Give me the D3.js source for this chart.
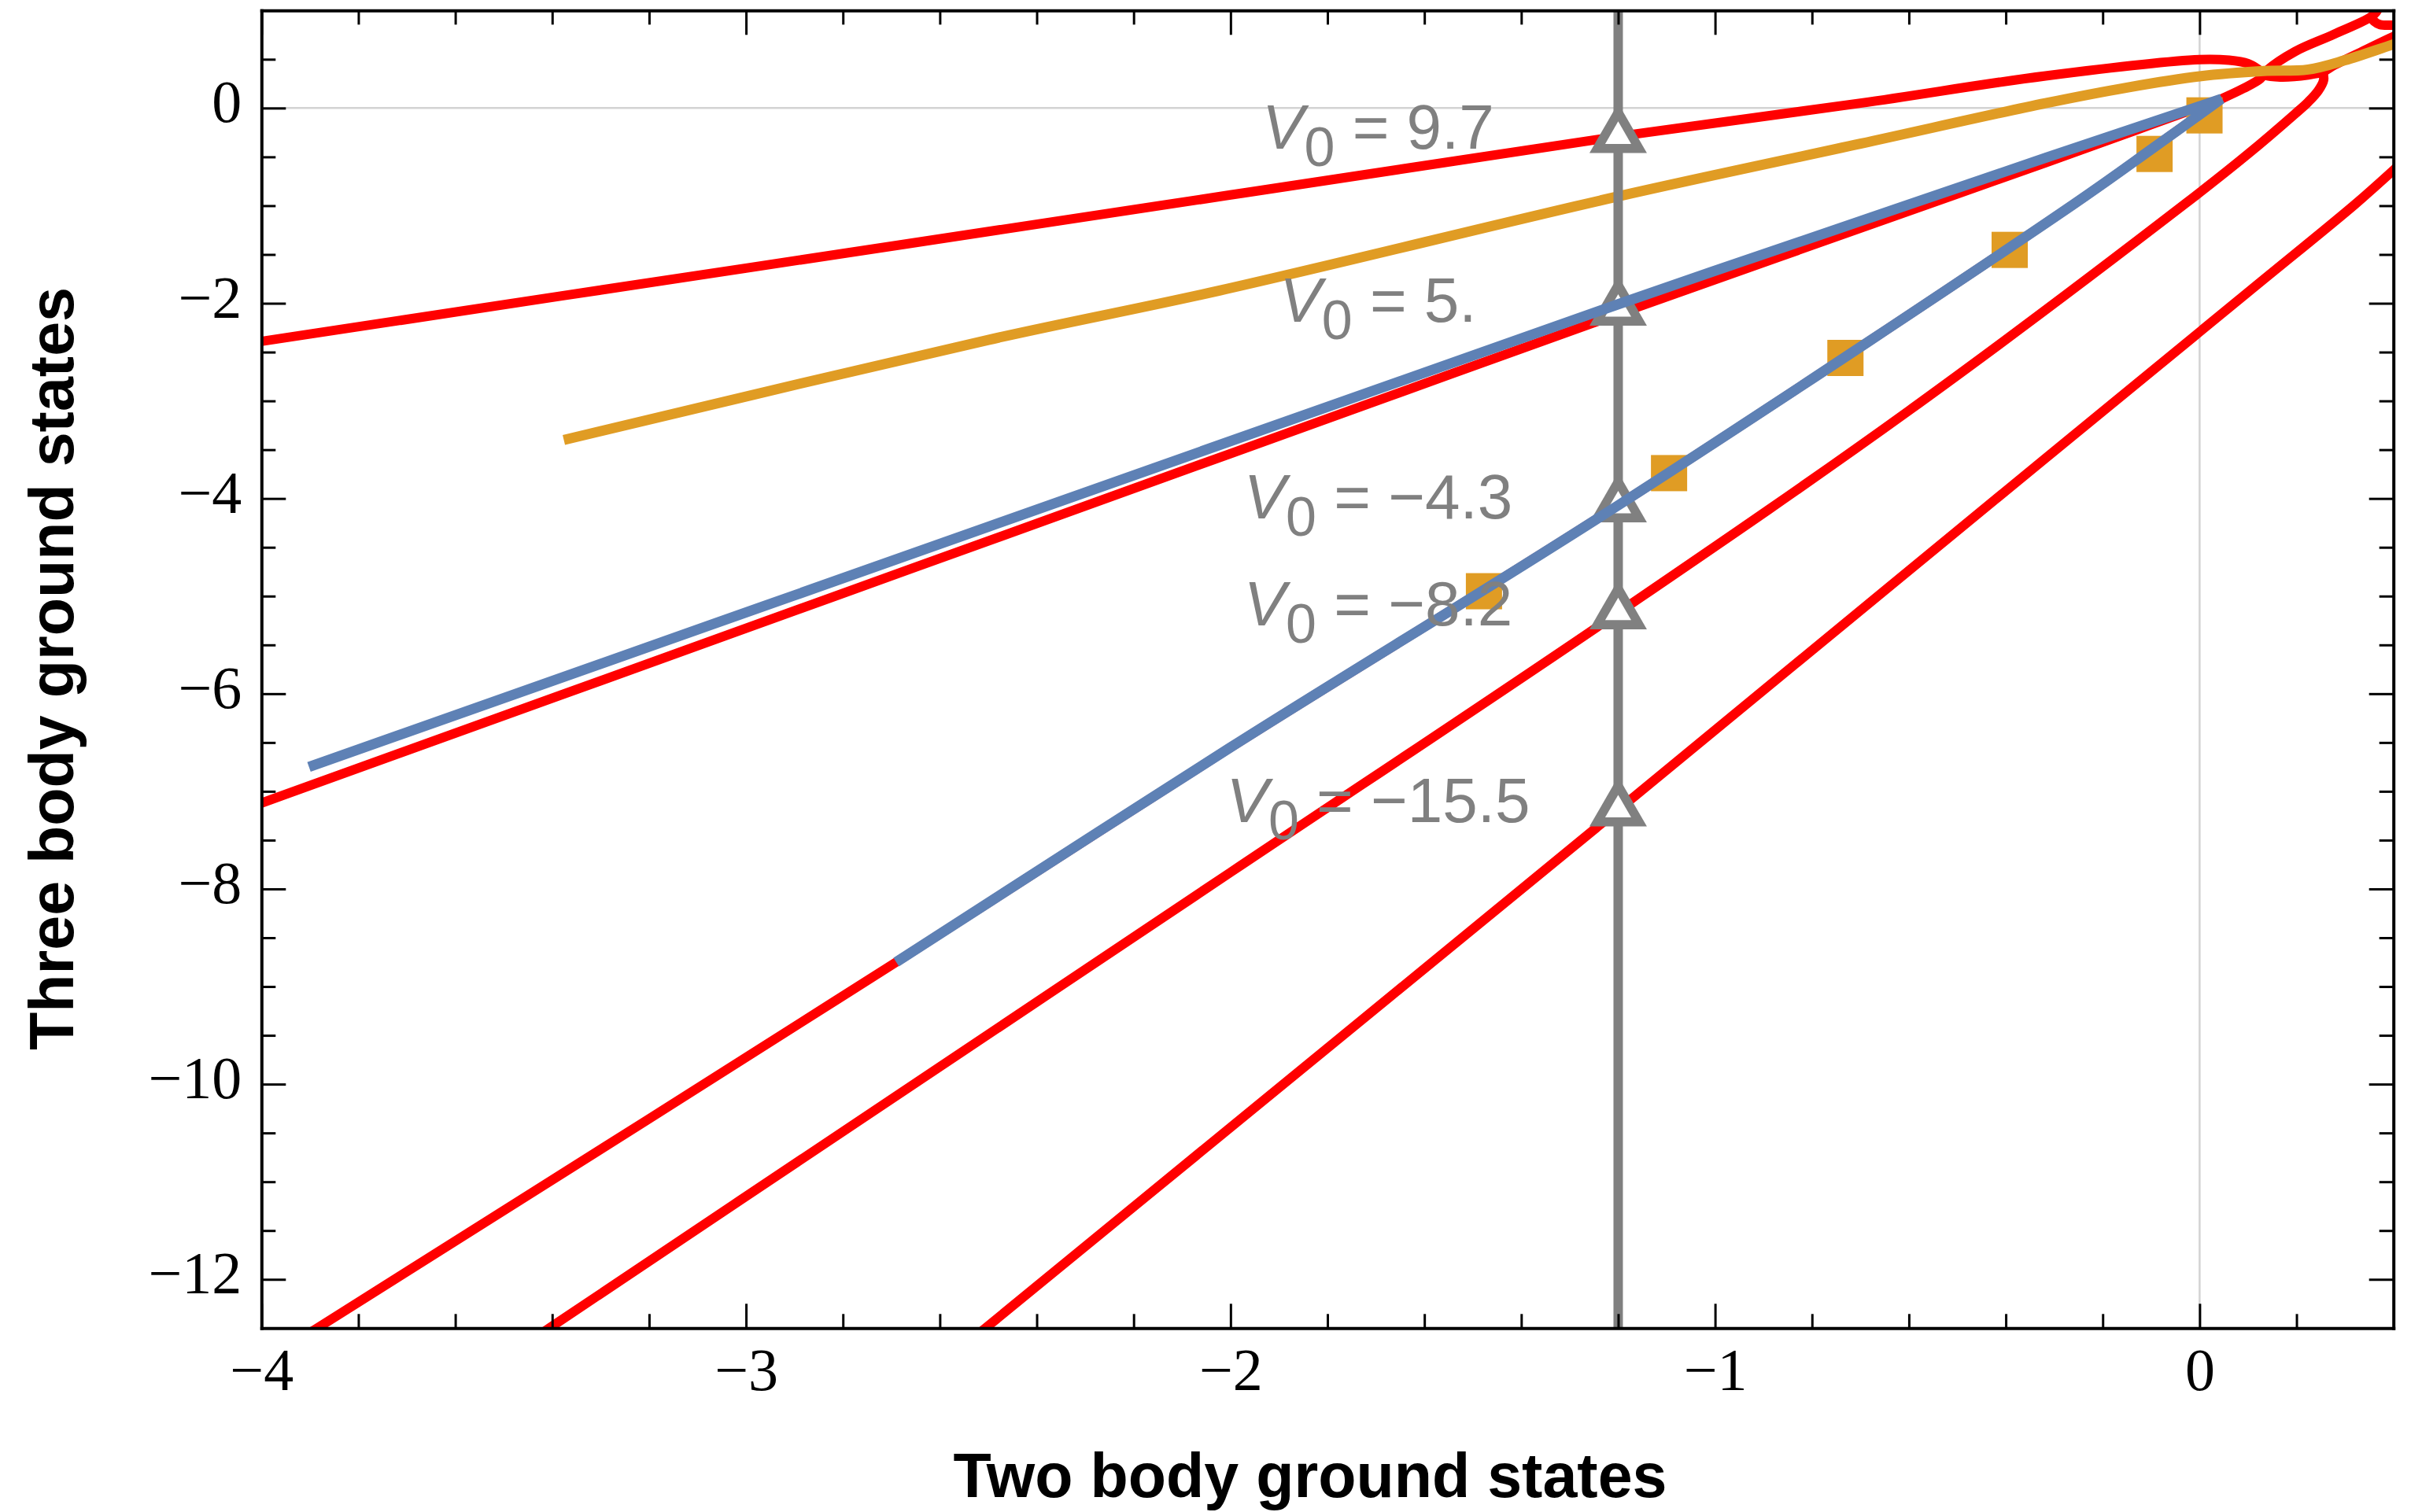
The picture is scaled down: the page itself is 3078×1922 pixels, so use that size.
<!DOCTYPE html>
<html><head><meta charset="utf-8">
<script src="https://cdn.jsdelivr.net/npm/d3@7"></script>
<style>body{margin:0;background:#fff;} svg{display:block;}</style>
</head><body>
<svg id="chart" width="3078" height="1922"></svg>
<script>
// ---------- data ----------
const xTicks = [-4, -3, -2, -1, 0];
const yTicks = [-12, -10, -8, -6, -4, -2, 0];

// red curves (branches of the three-body condition)
const redA = [[-4.05,-2.43],[-4,-2.39],[-3,-1.64],[-2,-0.89],[-1.2,-0.29],[-0.7,0.05],[-0.318,0.33],[0,0.497],[0.061,0.49],[0.1,0.455],[0.12,0.40],[0.136,0.335],[0.17,0.318],[0.224,0.34],[0.254,0.37],[0.278,0.44],[0.332,0.57],[0.4,0.733],[0.45,0.83]];
const redR = [[0.045,0.094],[0.09,0.2],[0.125,0.3],[0.14,0.39],[0.197,0.58],[0.278,0.758],[0.359,0.954],[0.372,1.05]];
const redFork = [[0.352,0.94],[0.36,0.89],[0.372,0.856],[0.4,0.85],[0.43,0.85]];
const redC = [[-3.46,-12.68],[-3.406,-12.5],[-3,-11.15],[-2,-7.83],[-1.2,-5.17],[-0.6,-3.1],[-0.031,-0.985],[0.1,-0.47],[0.197,-0.059],[0.224,0.062],[0.245,0.18],[0.256,0.29],[0.254,0.37]];
const redD = [[-2.55,-12.68],[-2.506,-12.5],[-1.2,-7.19],[-0.5,-4.33],[0.1,-1.886],[0.321,-0.985],[0.4,-0.637],[0.43,-0.5]];
const redBLower = [[-3.95,-12.7],[-3.885,-12.5],[-2.69,-8.75],[-2,-6.55],[-1.2,-4.07],[-0.26,-0.985],[-0.092,-0.395],[0.045,0.094]];
const redBUpper = [[-4.05,-7.21],[-4,-7.12],[-3,-5.33],[-2,-3.54],[-1.2,-2.11],[-0.318,-0.56],[-0.1,-0.17],[0.045,0.094]];

// blue hairpin curve: lower branch (to the tip) and upper branch (from the tip)
const blueLower = [[-2.69,-8.75],[-2,-6.55],[-1.2,-4.07],[-0.26,-0.985],[-0.092,-0.395],[0.045,0.094]];
const blueUpper = [[0.045,0.094],[-0.101,-0.15],[-0.318,-0.51],[-1.2,-2.01],[-2.5,-4.29],[-3.902,-6.75]];

// orange curve
const orange = [[-3.376,-3.40],[-2.5,-2.375],[-2.023,-1.87],[-1.2,-0.905],[-0.7,-0.365],[-0.318,0.05],[-0.15,0.21],[0,0.325],[0.132,0.379],[0.224,0.395],[0.30,0.49],[0.4,0.653],[0.45,0.73]];

// orange square points
const sqX = [-1.477, -1.095, -0.731, -0.392, -0.093, 0.010];
const sqY = [-4.95, -3.74, -2.56, -1.453, -0.47, -0.075];

// V0 markers on the vertical line
const markX = -1.2;
const markY = [-0.29, -2.06, -4.075, -5.17, -7.19];
const markLabels = ["9.7", "5.", "\u22124.3", "\u22128.2", "\u221215.5"];

// ---------- drawing ----------
const W = 3078, H = 1922;
const L = 332.3, R = 3041.7, T = 13.3, B = 1688.3;
const x = d3.scaleLinear([-4, 0.4], [L, R]);
const y = d3.scaleLinear([-12.5, 1], [B, T]);

const svg = d3.select('#chart');
svg.append('rect').attr('width', W).attr('height', H).attr('fill', '#fff');
svg.append('defs').append('clipPath').attr('id', 'clip')
  .append('rect').attr('x', L).attr('y', T).attr('width', R - L).attr('height', B - T);

const plot = svg.append('g').attr('clip-path', 'url(#clip)');

// grid lines at 0
plot.append('line').attr('x1', x(0)).attr('x2', x(0)).attr('y1', T).attr('y2', B)
  .attr('stroke', '#d3d3d3').attr('stroke-width', 2.5);
plot.append('line').attr('x1', L).attr('x2', R).attr('y1', y(0)).attr('y2', y(0))
  .attr('stroke', '#d3d3d3').attr('stroke-width', 2.5);

const smooth = d3.line().x(d => x(d[0])).y(d => y(d[1])).curve(d3.curveCatmullRom.alpha(0.5));

[redA, redR, redFork, redC, redD, redBLower, redBUpper].forEach(c => {
  plot.append('path').attr('d', smooth(c)).attr('fill', 'none')
    .attr('stroke', '#ff0000').attr('stroke-width', 12)
    .attr('stroke-linejoin', 'round').attr('stroke-linecap', 'butt');
});

plot.append('path').attr('d', smooth(orange)).attr('fill', 'none')
  .attr('stroke', '#e09c24').attr('stroke-width', 13).attr('stroke-linecap', 'butt');

// squares
plot.selectAll('rect.sq').data(sqX.map((v, i) => [v, sqY[i]])).enter().append('rect')
  .attr('class', 'sq')
  .attr('x', d => x(d[0]) - 23).attr('y', d => y(d[1]) - 23)
  .attr('width', 46).attr('height', 46).attr('fill', '#e09c24');

// labels
const lab = svg.append('g').attr('font-family', 'Liberation Sans, Arial, sans-serif')
  .attr('fill', '#808080').attr('font-size', 80);
markY.forEach((v, i) => {
  const t = lab.append('text').attr('x', x(markX) - 305).attr('y', y(v) + 16)
    .attr('text-anchor', 'middle');
  t.append('tspan').attr('font-style', 'italic').text('V');
  t.append('tspan').attr('font-size', 70).attr('dy', 22).text('0');
  t.append('tspan').attr('dy', -22).text('\u00a0=\u00a0' + markLabels[i]);
});

// vertical line
plot.append('line').attr('x1', x(markX)).attr('x2', x(markX)).attr('y1', T).attr('y2', B)
  .attr('stroke', '#808080').attr('stroke-width', 12);

// triangles
const triOuter = d3.symbol().type(d3.symbolTriangle).size(2307);
const triInner = d3.symbol().type(d3.symbolTriangle).size(472);
markY.forEach(v => {
  const g = plot.append('g').attr('transform', `translate(${x(markX)},${y(v)})`);
  g.append('path').attr('d', triOuter()).attr('fill', '#808080');
  g.append('path').attr('d', triInner()).attr('fill', '#ffffff');
});

// blue (single path, sharp tip)
const blueD = smooth(blueLower) + smooth(blueUpper).replace(/^M/, 'L');
plot.append('path').attr('d', blueD).attr('fill', 'none')
  .attr('stroke', '#5e81b5').attr('stroke-width', 13)
  .attr('stroke-linejoin', 'miter').attr('stroke-miterlimit', 4).attr('stroke-linecap', 'butt');

// ---------- axes / frame ----------
const xMinor = d3.range(-40, 4, 2).filter(v => v % 10 !== 0).map(v => v / 10);
const yMinor = d3.range(-24, 2, 1).filter(v => v % 4 !== 0).map(v => v / 2);
const fmt = d3.format('d');

function styleAxis(g) {
  g.attr('font-family', 'Liberation Serif, Times New Roman, serif').attr('font-size', 76);
  g.selectAll('.domain').attr('stroke', '#000').attr('stroke-width', 4).attr('stroke-linecap', 'square');
  g.selectAll('.tick line').attr('stroke', '#000').attr('stroke-width', 3);
  g.selectAll('.tick text').attr('fill', '#000');
}
function minor(g) { g.select('.domain').remove(); g.selectAll('.tick line').attr('stroke', '#000').attr('stroke-width', 3); }

svg.append('g').attr('transform', `translate(0,${B})`)
  .call(d3.axisBottom(x).tickValues(xMinor).tickSize(-18).tickFormat('')).call(minor);
svg.append('g').attr('transform', `translate(0,${T})`)
  .call(d3.axisTop(x).tickValues(xMinor).tickSize(-18).tickFormat('')).call(minor);
svg.append('g').attr('transform', `translate(${L},0)`)
  .call(d3.axisLeft(y).tickValues(yMinor).tickSize(-18).tickFormat('')).call(minor);
svg.append('g').attr('transform', `translate(${R},0)`)
  .call(d3.axisRight(y).tickValues(yMinor).tickSize(-18).tickFormat('')).call(minor);

svg.append('g').attr('transform', `translate(0,${B})`)
  .call(d3.axisBottom(x).tickValues(xTicks).tickFormat(fmt).tickSize(-31).tickSizeOuter(0).tickPadding(25)).call(styleAxis);
svg.append('g').attr('transform', `translate(0,${T})`)
  .call(d3.axisTop(x).tickValues(xTicks).tickSize(-31).tickSizeOuter(0).tickFormat('')).call(styleAxis);
const leftAx = svg.append('g').attr('transform', `translate(${L},0)`)
  .call(d3.axisLeft(y).tickValues(yTicks).tickFormat(fmt).tickSize(-31).tickSizeOuter(0).tickPadding(25)).call(styleAxis);
leftAx.selectAll('.tick text').attr('dy', '0.23em');
svg.append('g').attr('transform', `translate(${R},0)`)
  .call(d3.axisRight(y).tickValues(yTicks).tickSize(-31).tickSizeOuter(0).tickFormat('')).call(styleAxis);

// titles
svg.append('text').attr('x', 1665).attr('y', 1903).attr('text-anchor', 'middle')
  .attr('font-family', 'Liberation Sans, Arial, sans-serif').attr('font-weight', 'bold')
  .attr('font-size', 79).attr('fill', '#000').text('Two body ground states');
svg.append('text').attr('transform', 'translate(93,850) rotate(-90)').attr('text-anchor', 'middle')
  .attr('font-family', 'Liberation Sans, Arial, sans-serif').attr('font-weight', 'bold')
  .attr('font-size', 79).attr('fill', '#000').text('Three body ground states');
</script>
</body></html>
